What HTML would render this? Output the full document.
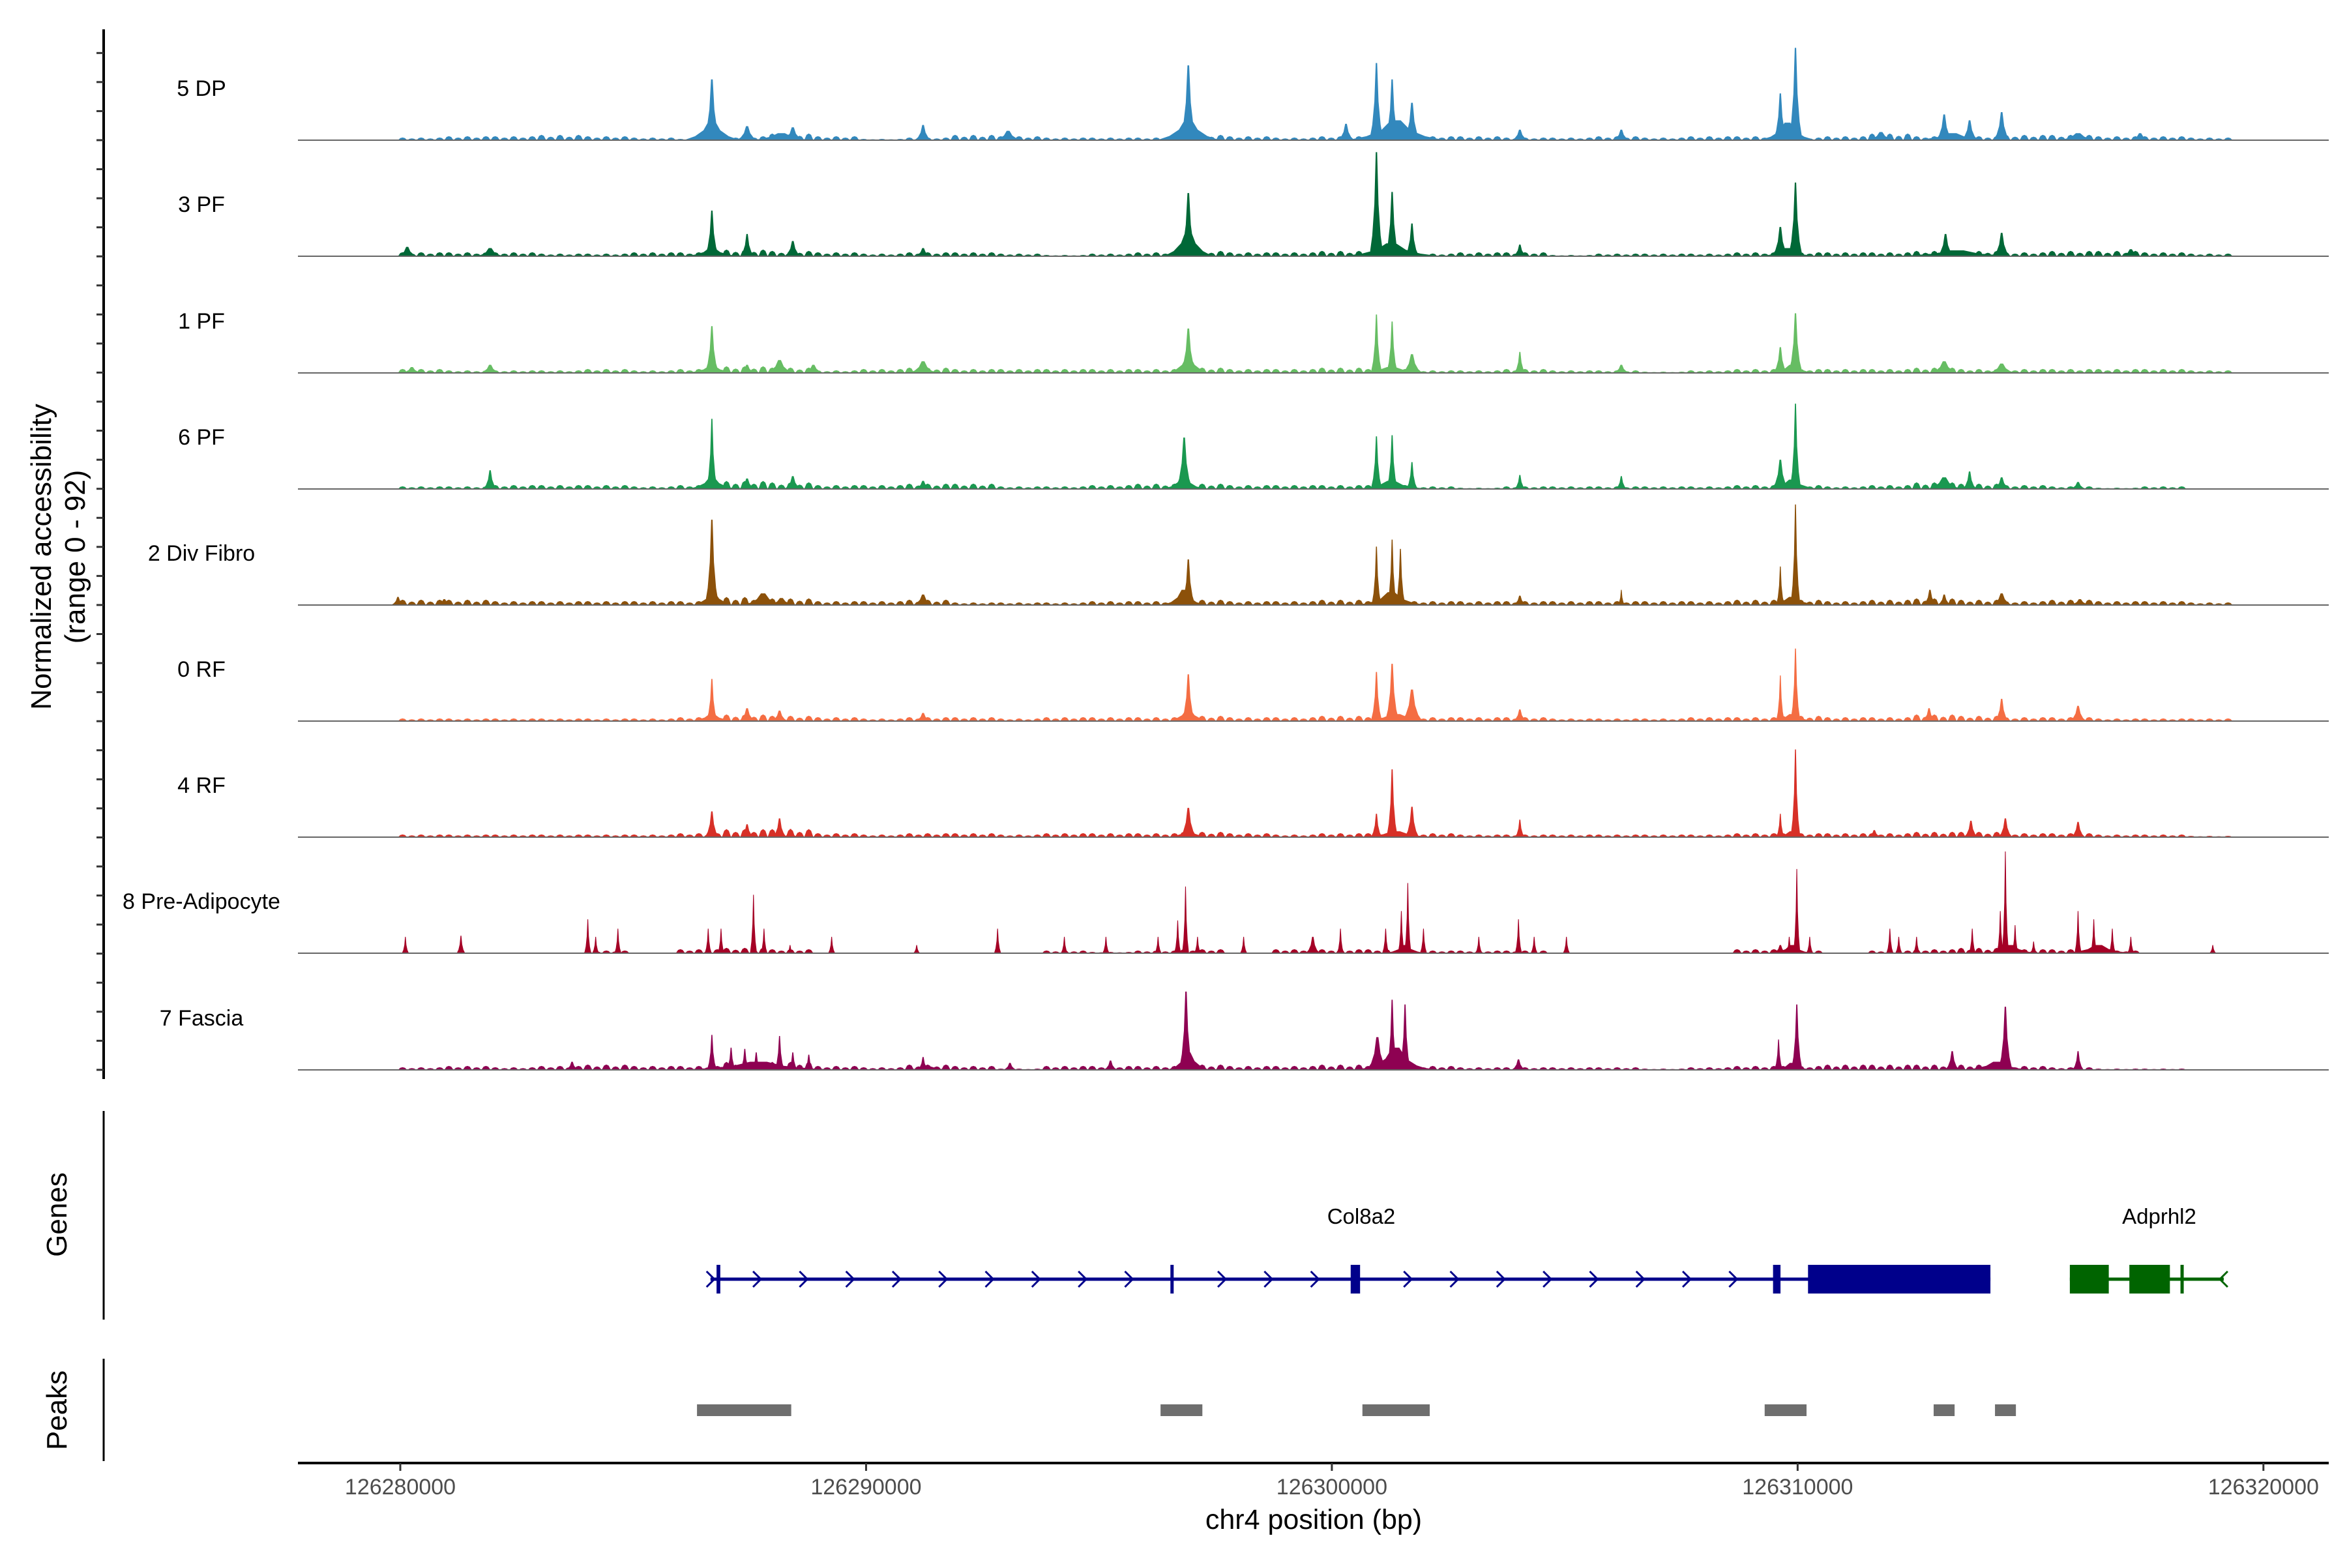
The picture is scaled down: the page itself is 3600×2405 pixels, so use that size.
<!DOCTYPE html>
<html><head><meta charset="utf-8"><style>
html,body{margin:0;padding:0;background:#fff;}
svg text{font-family:"Liberation Sans",sans-serif;}
</style></head><body>
<svg id="chart" width="3600" height="2400" viewBox="0 0 3600 2400" xmlns="http://www.w3.org/2000/svg">
<rect x="0" y="0" width="3600" height="2400" fill="#fff"/>
<g id="tracks"></g>
<g id="yaxis"></g>
<text transform="translate(78,854) rotate(-90)" text-anchor="middle" font-size="44">Normalized accessibility</text>
<text transform="translate(130,854) rotate(-90)" text-anchor="middle" font-size="44">(range 0 - 92)</text>
<line x1="159" y1="1704" x2="159" y2="2024" stroke="#000" stroke-width="3"/>
<text transform="translate(102,1863) rotate(-90)" text-anchor="middle" font-size="44">Genes</text>
<line x1="159" y1="2084" x2="159" y2="2241" stroke="#000" stroke-width="3"/>
<text transform="translate(102,2163) rotate(-90)" text-anchor="middle" font-size="44">Peaks</text>
<g id="genes"></g>
<g id="peaks"></g>
<g id="xaxis"></g>
<text x="2015" y="2345" text-anchor="middle" font-size="43">chr4 position (bp)</text>
</svg>
<script>
// ---------- data ----------
const regionStart = 126280000;
const trackNames = ["5 DP","3 PF","1 PF","6 PF","2 Div Fibro","0 RF","4 RF","8 Pre-Adipocyte","7 Fascia"];
const trackColors = ["#3288BD","#006837","#66BD63","#1A9850","#8C510A","#F46D43","#D73027","#A50026","#8E0152"];
// summits: [kb offset, value (0-92), half-width kb]
const peaks5DP = [[6.78,52,.12],[6.78,17,.4],[7.55,12,.15],[8.55,11,.15],[8.3,6,.5],[11.40,13,.12],[13.26,8,.2],[17.20,64,.12],[17.2,18,.45],[20.62,14,.12],[21.28,66,.1],[21.62,52,.1],[22.05,32,.12],[21.7,17,.7],[24.39,9,.12],[26.59,9,.12],[30.04,40,.1],[30.38,79,.1],[30.2,15,.4],[32.30,7,.2],[33.72,22,.12],[34.29,17,.12],[33.9,6,.6],[35.01,24,.12],[36.66,6,.3],[38.0,6,.15]];
const peaks3PF = [[0.2,8,.15],[1.99,7,.2],[6.78,39,.1],[6.78,7,.4],[7.55,19,.1],[8.55,13,.12],[11.40,7,.12],[17.20,54,.12],[17.2,22,.35],[21.28,89,.1],[21.62,55,.1],[22.05,28,.1],[21.6,11,.7],[24.39,10,.1],[30.04,25,.12],[30.38,63,.1],[30.2,7,.4],[33.75,19,.12],[35.01,20,.12],[34.0,5,1.0],[37.8,6,.15]];
const peaks1PF = [[0.3,5,.15],[1.99,7,.15],[6.78,40,.1],[6.78,6,.4],[7.55,7,.12],[8.26,11,.2],[9.0,7,.15],[11.40,10,.2],[17.20,38,.12],[17.2,14,.3],[21.28,50,.08],[21.62,44,.08],[22.05,16,.15],[21.6,5,.6],[24.39,18,.08],[26.59,7,.12],[30.04,22,.1],[30.38,51,.1],[30.3,7,.35],[33.72,10,.2],[35.01,8,.2]];
const peaks6PF = [[1.99,16,.1],[6.78,60,.08],[6.78,10,.35],[7.55,9,.12],[8.55,11,.12],[11.40,7,.12],[17.11,44,.12],[17.1,11,.3],[21.28,45,.08],[21.62,46,.08],[22.05,23,.08],[21.6,7,.55],[24.39,12,.08],[26.59,11,.08],[30.04,25,.12],[30.38,73,.08],[30.3,8,.4],[33.72,10,.25],[34.29,15,.1],[35.01,10,.12],[36.66,6,.12]];
const peaksDiv = [[0.0,7,.1],[1.0,5,.12],[6.78,73,.1],[6.8,11,.3],[7.9,10,.3],[8.3,6,.2],[11.40,9,.15],[17.20,39,.1],[17.1,13,.3],[21.28,50,.07],[21.62,56,.07],[21.8,48,.07],[21.6,11,.5],[24.39,8,.1],[26.59,13,.05],[30.04,33,.06],[30.38,86,.07],[30.3,7,.4],[33.4,13,.1],[33.72,9,.1],[35.01,10,.15],[36.7,5,.15]];
const peaks0RF = [[6.78,36,.08],[6.78,6,.35],[7.55,11,.12],[8.26,9,.12],[11.40,7,.12],[17.20,40,.1],[17.2,10,.3],[21.28,42,.08],[21.62,49,.1],[22.05,27,.15],[21.7,6,.6],[24.39,10,.1],[30.04,39,.06],[30.38,62,.07],[30.3,6,.35],[33.38,11,.1],[35.01,19,.1],[36.66,13,.12]];
const peaks4RF = [[6.78,22,.1],[7.55,11,.1],[8.26,16,.1],[8.5,7,.1],[17.20,25,.12],[17.2,6,.3],[21.28,20,.08],[21.62,58,.08],[22.05,26,.1],[21.7,5,.6],[24.39,15,.07],[30.04,20,.06],[30.38,75,.07],[30.3,5,.3],[32.15,6,.1],[34.32,14,.1],[35.09,16,.1],[36.66,13,.1]];
const peaksPre = [[0.16,14,.05],[1.36,15,.06],[4.1,29,.05],[4.27,14,.05],[4.75,21,.05],[6.7,21,.05],[6.98,21,.05],[7.69,50,.05],[7.92,21,.05],[8.49,7,.05],[9.40,14,.05],[11.26,7,.05],[13.03,21,.05],[14.49,14,.05],[15.4,14,.05],[16.54,14,.05],[16.97,28,.05],[17.14,57,.05],[17.4,14,.05],[18.4,14,.05],[19.9,14,.1],[20.5,21,.05],[21.48,21,.05],[21.82,36,.05],[21.96,60,.05],[22.3,21,.05],[21.9,7,.3],[23.5,14,.05],[24.36,29,.05],[24.7,14,.05],[25.4,14,.05],[30.04,7,.1],[30.24,14,.05],[30.41,72,.05],[30.7,14,.05],[30.3,7,.3],[32.5,21,.05],[32.7,14,.05],[33.1,14,.05],[34.35,21,.05],[34.98,36,.05],[35.09,87,.05],[35.3,24,.05],[35.7,10,.05],[35.2,7,.4],[36.66,36,.05],[37.0,29,.05],[37.4,21,.05],[37.8,14,.05],[37.1,7,.5],[39.57,7,.05]];
const peaksFas = [[3.76,7,.1],[6.78,30,.07],[7.2,19,.07],[7.5,18,.07],[7.75,15,.07],[8.26,29,.07],[8.55,15,.07],[8.9,13,.07],[7.8,7,1.2],[11.40,11,.08],[11.5,3,.4],[13.3,6,.1],[15.5,8,.1],[17.15,67,.1],[17.2,15,.3],[21.3,28,.15],[21.62,60,.08],[21.9,56,.08],[21.7,19,.5],[21.7,6,.8],[24.36,9,.1],[30.0,26,.06],[30.41,56,.08],[30.3,6,.3],[33.9,16,.1],[35.09,54,.1],[34.9,7,.5],[36.66,16,.08]];
// background levels per 1 kb bin (0..39 kb)
const bg5DP = [2,3,3,4,3,2,1,3,5,3,1,2,4,3,2,2,2,4,3,2,3,2,3,3,2,2,3,2,3,3,2,3,5,3,3,4,4,3,3,2];
const bg3PF = [3,3,3,2,2,3,3,5,4,3,2,3,3,2,1,2,3,4,3,3,4,3,2,3,3,1,2,2,2,3,3,3,3,4,4,3,4,4,3,2];
const bg1PF = [3,2,2,2,3,2,3,5,4,2,3,4,3,3,3,3,3,4,3,3,4,3,2,2,3,2,2,1,2,3,3,3,3,4,3,3,3,3,3,2];
const bg6PF = [2,2,3,3,3,2,3,6,5,3,3,4,4,2,2,3,4,4,3,3,3,3,2,1,2,2,2,2,2,3,3,2,3,5,4,3,2,1,2,0];
const bgDiv = [4,4,3,3,3,3,3,6,5,3,3,4,2,2,2,3,3,4,3,3,4,3,3,3,3,3,3,3,3,4,4,3,4,5,4,3,4,3,3,2];
const bg0RF = [2,2,2,2,2,2,3,5,4,3,2,3,3,2,3,3,3,4,3,3,4,3,3,3,3,2,2,2,3,3,4,3,3,5,4,3,3,2,2,2];
const bg4RF = [2,2,2,2,2,2,3,6,6,3,2,3,3,2,3,3,3,4,3,2,3,3,3,2,2,2,2,2,2,3,3,3,3,4,4,3,3,2,2,1];
const bgPre = [0,0,0,0,2,0,3,4,3,0,0,0,0,0,2,1,2,3,0,3,3,3,2,2,2,0,0,0,0,3,2,0,2,3,4,3,3,2,0,0];
const bgFas = [2,3,2,3,4,3,3,6,6,3,2,4,3,1,3,3,3,4,3,3,4,3,3,2,2,2,2,1,2,3,3,4,4,4,4,3,2,1,1,0];
const xTicks = [126280000,126290000,126300000,126310000,126320000];
const xTickLabels = ["126280000","126290000","126300000","126310000","126320000"];
const peakStarts = [126286370,126296322,126300656,126309292,126312920,126314237];
const peakEnds   = [126288393,126297220,126302101,126310191,126313370,126314686];
const col8a2Span = [126286659,126314139];
const col8a2Exons = [[126286790,126286870],[126296534,126296574],[126300404,126300606],[126309472,126309632],[126310223,126314139]];
const adprhl2Span = [126315844,126319148];
const adprhl2Exons = [[126315844,126316680],[126317122,126317992],[126318219,126318279]];

// ---------- scales ----------
const NS = "http://www.w3.org/2000/svg";
const xScale = bp => 614 + (bp - regionStart) * 0.071445;
// calibration of image-read kb positions to genomic offset (piecewise linear)
const calKb = [0, 6.75, 17, 30, 35, 40];
const calShift = [0.05, 0.09, 0.28, 0.41, 0.63, 0.66];
function calib(kb) {
  for (let i = 0; i < calKb.length - 1; i++) {
    if (kb <= calKb[i + 1]) {
      const f = Math.max(0, (kb - calKb[i]) / (calKb[i + 1] - calKb[i]));
      return calShift[i] + f * (calShift[i + 1] - calShift[i]);
    }
  }
  return calShift[calShift.length - 1];
}
const kbToBp = kb => regionStart + (kb - calib(kb)) * 1000;
const kbX = kb => xScale(kbToBp(kb));
const baselines = [215,393,572,750,928,1106,1284,1462,1641];
const yUnit = 165 / 92;
const allPeaks = [peaks5DP,peaks3PF,peaks1PF,peaks6PF,peaksDiv,peaks0RF,peaks4RF,peaksPre,peaksFas];
const allBg = [bg5DP,bg3PF,bg1PF,bg6PF,bgDiv,bg0RF,bg4RF,bgPre,bgFas];
function mk(tag, attrs, parent){const e=document.createElementNS(NS,tag);for(const k in attrs)e.setAttribute(k,attrs[k]);parent.appendChild(e);return e;}

const tracksG = document.getElementById('tracks');
for (let t = 0; t < trackNames.length; t++) {
  const base = baselines[t];
  const g = mk('g', {}, tracksG);
  
  
  let d = '';
  allBg[t].forEach((v, i) => {
    if (v <= 0) return;
    const x0 = kbX(i), x1 = kbX(i + 1), h = v * yUnit;
    const n = 5;
    for (let j = 0; j < n; j++) {
      const a = x0 + (x1 - x0) * j / n, b = x0 + (x1 - x0) * (j + 1) / n, m = (a + b) / 2;
      const hh = h * (j % 2 ? 0.75 : 1.15);
      d += `M${a},${base}L${a + (m-a)*0.5},${base - hh*0.8}L${m},${base - hh}L${m + (b-m)*0.5},${base - hh*0.8}L${b},${base}Z`;
    }
  });
  allPeaks[t].forEach(p => {
    const cx = kbX(p[0]), h = p[1] * yUnit, w = Math.max(p[2] * 1.5 * 1000 * 0.071445, 3);
    d += `M${cx - w},${base}L${cx - w * 0.6},${base - h * 0.2}L${cx - w * 0.3},${base - h * 0.5}L${cx - w*0.1},${base - h}L${cx + w*0.1},${base - h}L${cx + w * 0.3},${base - h * 0.5}L${cx + w * 0.6},${base - h * 0.2}L${cx + w},${base}Z`;
  });
  const path = mk('path', {d: d, fill: trackColors[t]}, g);
  
  
  const bl = mk('line', {x1: 457, x2: 3572, y1: base, y2: base, stroke: '#666', 'stroke-width': 2}, g);
  
  
  const lbl = mk('text', {x: 309, y: base - 68, 'text-anchor': 'middle', 'font-size': 34}, g);
  lbl.textContent = trackNames[t];
  
  
}

// y axis
const yG = document.getElementById('yaxis');
mk('line', {x1: 159, y1: 45, x2: 159, y2: 1655, stroke: '#000', 'stroke-width': 4}, yG);
for (let k = 0; k <= 35; k++) {
  const y = 81.3 + k * 44.56;
  const tk = mk('line', {x1: 148, x2: 159, y1: y, y2: y, stroke: '#333', 'stroke-width': 3}, yG);
  
  
}

// genes
const gG = document.getElementById('genes');
const gy = 1962;
function drawGene(span, exons, color, dir, label, labelX) {
  mk('line', {x1: xScale(span[0]), x2: xScale(span[1]), y1: gy, y2: gy, stroke: color, 'stroke-width': 5}, gG);
  exons.forEach(e => {
    const x0 = xScale(e[0]), x1 = xScale(e[1]);
    const r = mk('rect', {x: x0, y: gy - 22, width: Math.max(x1 - x0, 5), height: 44, fill: color}, gG);
    
    
  });
  const sx = xScale(span[0]), ex = xScale(span[1]);
  const inExon = x => exons.some(e => x > xScale(e[0]) - 10 && x < xScale(e[1]) + 10);
  for (let k = 0; ; k++) {
    const x = dir > 0 ? sx + k * 71.3 : ex - k * 75;
    if (x < sx - 1 || x > ex + 1) break;
    if (k > 0 && inExon(x)) continue;
    const s = dir > 0 ? 1 : -1;
    mk('polyline', {points: `${x - 6*s},${gy - 12} ${x + 6*s},${gy} ${x - 6*s},${gy + 12}`, fill: 'none', stroke: color, 'stroke-width': 3}, gG);
  }
  const t = mk('text', {x: labelX, y: 1877, 'text-anchor': 'middle', 'font-size': 33}, gG);
  t.textContent = label;
  
  
}
drawGene(col8a2Span, col8a2Exons, '#00008B', 1, 'Col8a2', 2088);
drawGene(adprhl2Span, adprhl2Exons, '#006400', -1, 'Adprhl2', 3312);

// peaks
const pG = document.getElementById('peaks');
peakStarts.forEach((s, i) => {
  const r = mk('rect', {x: xScale(s), y: 2154, width: xScale(peakEnds[i]) - xScale(s), height: 18, fill: '#6E6E6E'}, pG);
  
  
});

// x axis
const xG = document.getElementById('xaxis');
mk('line', {x1: 457, x2: 3572, y1: 2244, y2: 2244, stroke: '#000', 'stroke-width': 4}, xG);
xTicks.forEach((v, i) => {
  const x = xScale(v);
  const tk = mk('line', {x1: x, x2: x, y1: 2244, y2: 2256, stroke: '#333', 'stroke-width': 3}, xG);
  
  
  const t = mk('text', {x: x, y: 2292, 'text-anchor': 'middle', 'font-size': 34, fill: '#4D4D4D'}, xG);
  t.textContent = xTickLabels[i];
  
  
});
</script>
</body></html>
